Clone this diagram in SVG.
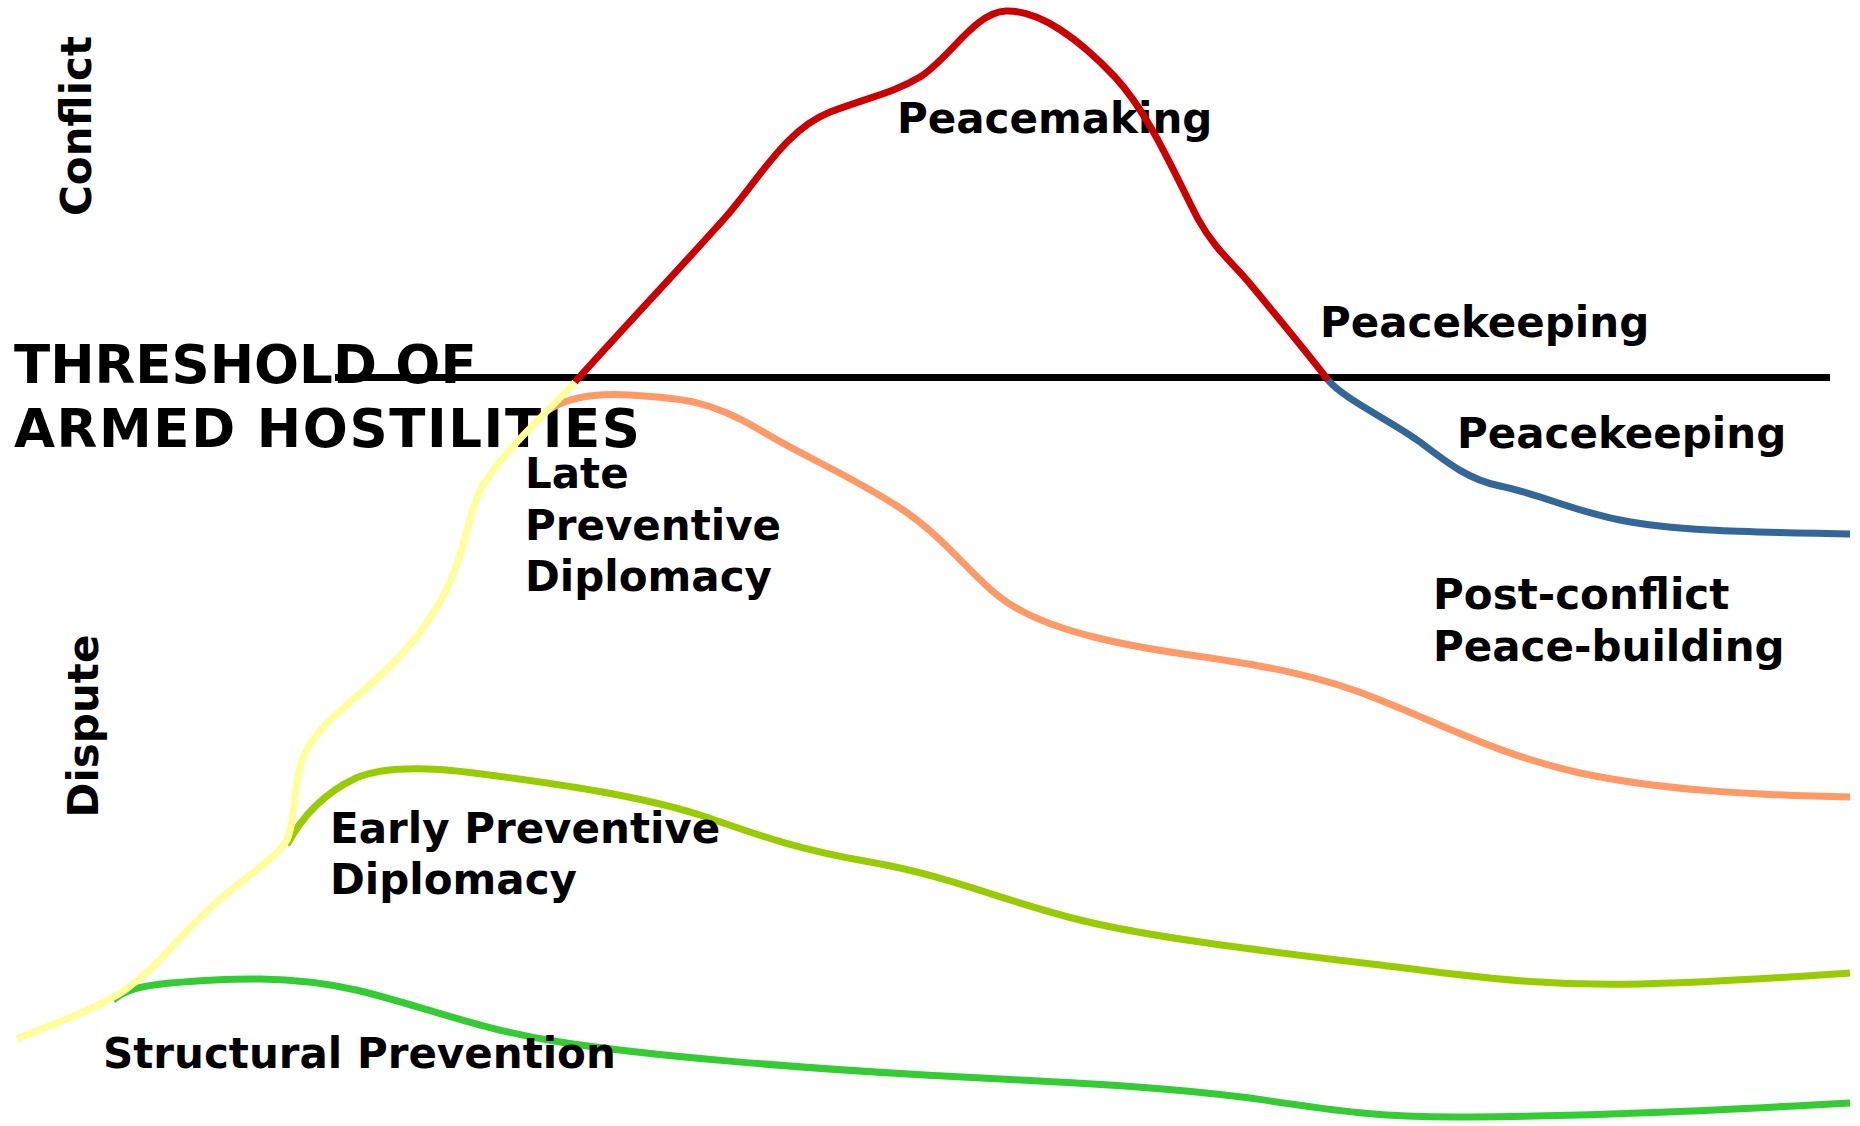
<svg xmlns="http://www.w3.org/2000/svg" width="1860" height="1126" viewBox="0 0 1860 1126">
  <style>
    .lbl { font-family: "DejaVu Sans", Verdana, sans-serif; font-weight: bold; font-size: 42px; fill: #000; }
    .big { font-family: "DejaVu Sans", Verdana, sans-serif; font-weight: bold; font-size: 53px; fill: #000; }
    .curve { fill: none; stroke-width: 7; stroke-linecap: butt; stroke-linejoin: round; }
  </style>
  <rect width="1860" height="1126" fill="#ffffff"/>

  <!-- axis words -->
  <g id="axis-conflict"><text class="lbl" transform="translate(91,126) rotate(-90)" text-anchor="middle">Conflict</text></g>
  <g id="axis-dispute"><text class="lbl" transform="translate(98,726) rotate(-90)" text-anchor="middle">Dispute</text></g>

  <!-- threshold -->
  <g id="threshold">
    <text class="big" x="14" y="383">THRESHOLD OF</text>
    <text class="big" x="14" y="447" textLength="626" lengthAdjust="spacing">ARMED HOSTILITIES</text>
  </g>

  <g id="connectors">
    <path id="threshold-line" d="M335,377.5 L1830,377.5" stroke="#000" stroke-width="7" fill="none"/>
    <path id="structural" class="curve" stroke="#33CC33" d="M113,1000 C125,990 140,986 170,983 C230,978 290,975 356,990 C420,1005 480,1030 560,1042 C650,1056 800,1068 925,1075 C1050,1082 1150,1085 1250,1098 C1330,1110 1380,1118 1470,1117 C1600,1116 1720,1110 1850,1103"/>
    <path id="early" class="curve" stroke="#99CC00" d="M287,845 C300,820 320,795 356,778 C380,768 420,766 474,773 C560,784 640,796 700,815 C750,832 790,848 870,862 C950,876 1000,900 1080,920 C1160,940 1300,955 1420,970 C1500,980 1560,986 1640,984 C1720,982 1790,977 1850,973"/>
    <path id="late" class="curve" stroke="#FF9966" d="M548,410 C570,396 600,393 630,395 C680,398 710,400 760,430 C800,455 850,475 900,508 C950,540 980,590 1020,610 C1060,632 1120,645 1190,655 C1260,665 1320,675 1380,700 C1450,728 1500,755 1580,773 C1660,790 1750,795 1850,797"/>
    <path id="keeping" class="curve" stroke="#336699" d="M1328,380 C1345,400 1390,420 1420,442 C1450,465 1470,480 1500,486 C1540,494 1570,510 1620,520 C1680,532 1760,532 1850,534"/>
  </g>

  <!-- phase labels -->
  <g id="label-late"><text class="lbl" x="525" y="488">Late</text><text class="lbl" x="525" y="540">Preventive</text><text class="lbl" x="525" y="591">Diplomacy</text></g>
  <g id="label-early"><text class="lbl" x="330" y="843">Early Preventive</text><text class="lbl" x="330" y="894">Diplomacy</text></g>
  <g id="label-structural"><text class="lbl" x="103" y="1068">Structural Prevention</text></g>
  <g id="label-peacemaking"><text class="lbl" x="897" y="133">Peacemaking</text></g>
  <g id="label-peacekeeping-upper"><text class="lbl" x="1320" y="337">Peacekeeping</text></g>
  <g id="label-peacekeeping-lower"><text class="lbl" x="1457" y="448">Peacekeeping</text></g>
  <g id="label-postconflict"><text class="lbl" x="1433" y="609">Post-conflict</text><text class="lbl" x="1433" y="661">Peace-building</text></g>

  <g id="connectors-top">
    <path id="escalation" class="curve" stroke="#FFFF99" d="M17,1039 C50,1025 95,1010 125,990 C160,965 175,940 210,908 C240,880 275,860 287,840 C296,820 292,790 302,760 C315,725 350,705 375,680 C410,650 440,610 455,570 C470,530 470,500 490,475 C510,445 550,410 575,382"/>
    <path id="making" class="curve" stroke="#CC0000" d="M575,382 C620,332 680,268 724,219 C760,178 785,130 830,112 C870,97 895,92 920,77 C950,58 975,12 1006,11 C1040,10 1080,40 1115,77 C1150,115 1175,175 1198,219 C1215,250 1235,265 1251,285 C1280,320 1305,350 1328,380"/>
  </g>
</svg>
